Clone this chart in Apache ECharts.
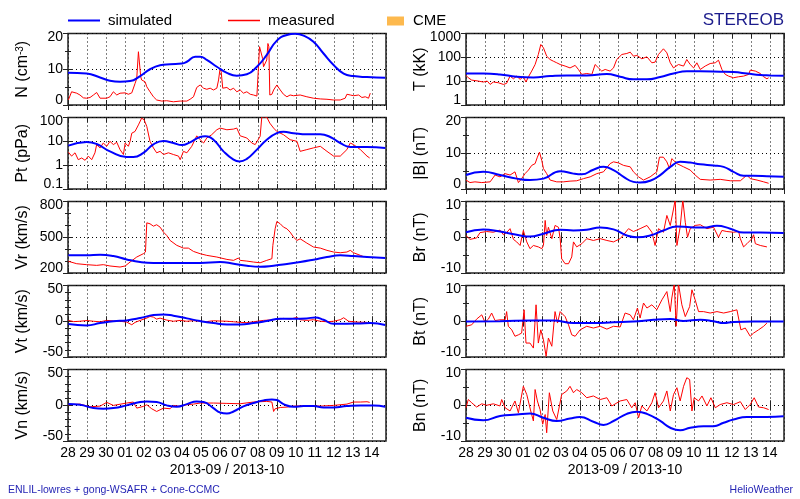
<!DOCTYPE html>
<html><head><meta charset="utf-8">
<script src="https://cdn.jsdelivr.net/npm/echarts@6/dist/echarts.min.js"></script>
<style>html,body{margin:0;padding:0;background:#fff}#c{width:800px;height:499px}</style>
</head><body><div id="c"></div>
<script>
// x axis: days since 2013-09-28 00:00
const dayLabels = ['28','29','30','01','02','03','04','05','06','07','08','09','10','11','12','13','14'];
const xName = '2013-09 / 2013-10';

// ---- left column ----
const nSim = [[0,9.0],[0.98,8.8],[1.69,7.7],[2.21,6.8],[2.74,6.5],[3.27,6.7],[3.8,8.1],[4.32,10.0],[4.85,11.1],[5.38,11.4],[6.0,11.6],[6.26,12.1],[6.7,13.5],[6.96,13.5],[7.31,12.6],[7.84,10.7],[8.37,9.0],[8.89,8.2],[9.42,8.6],[9.95,10.7],[10.47,14.0],[11.0,18.0],[11.53,19.6],[11.97,19.9],[12.41,19.4],[12.93,17.7],[13.46,14.4],[13.99,11.2],[14.52,8.8],[15.04,8.1],[15.75,7.8],[16.71,7.6]];
const nObs = [[0.02,1.4],[0.19,3.7],[0.28,4.0],[0.46,3.3],[0.63,2.8],[0.81,2.0],[0.98,1.9],[1.16,2.1],[1.34,2.8],[1.51,3.5],[1.69,1.9],[2.04,1.9],[2.21,2.3],[2.39,3.7],[2.57,2.8],[2.74,3.3],[3.01,3.4],[3.18,3.0],[3.36,3.4],[3.44,3.0],[3.53,6.0],[3.62,7.4],[3.71,14.9],[3.76,14.4],[3.83,7.9],[3.88,7.0],[3.97,7.2],[4.06,6.5],[4.15,5.1],[4.32,3.7],[4.5,2.3],[4.67,1.4],[4.94,1.1],[5.2,1.2],[5.55,0.9],[5.91,1.1],[6.26,1.1],[6.43,1.6],[6.61,2.3],[6.78,4.9],[6.96,5.6],[7.14,4.7],[7.31,4.4],[7.49,4.7],[7.66,4.2],[7.84,4.7],[7.93,7.0],[8.01,10.2],[8.07,9.3],[8.15,4.7],[8.37,4.9],[8.54,4.2],[8.72,4.7],[8.89,3.7],[9.07,4.2],[9.24,3.3],[9.42,3.7],[9.6,3.0],[9.77,2.8],[9.95,2.5],[10.04,2.6],[10.09,16.3],[10.16,15.8],[10.25,13.0],[10.3,10.7],[10.39,10.2],[10.47,12.6],[10.53,17.2],[10.58,16.3],[10.63,2.8],[10.74,3.0],[10.83,4.2],[11.0,5.6],[11.18,4.2],[11.35,3.0],[11.53,2.3],[11.7,2.8],[11.88,2.6],[12.23,2.8],[12.58,2.3],[12.93,1.9],[13.29,1.7],[13.64,1.6],[13.99,1.4],[14.34,1.4],[14.6,1.9],[14.69,3.0],[14.87,2.8],[15.04,2.6],[15.31,2.8],[15.48,2.1],[15.66,2.3],[15.83,1.9],[15.92,3.3]];

const ptSim = [[0.02,6.6],[0.98,9.4],[1.51,7.7],[2.21,3.8],[3.09,2.2],[3.44,2.2],[3.97,3.3],[4.5,7.5],[5.03,10.3],[5.55,8.5],[5.99,7.0],[6.43,9.1],[6.96,15.2],[7.22,16.2],[7.66,11.7],[8.19,3.8],[8.72,1.7],[9.03,1.42],[9.42,1.84],[9.95,4.5],[10.47,11.7],[11.0,22],[11.35,25],[11.88,22],[12.58,19.6],[13.29,19.6],[13.81,15.2],[14.34,8.5],[14.87,5.8],[15.75,5.8],[16.71,5.3]];
const ptObs = [[0.02,3.5],[0.19,2.4],[0.37,3.3],[0.54,1.7],[0.72,2.0],[0.9,1.6],[1.07,2.4],[1.25,1.7],[1.42,3.3],[1.51,7.3],[1.69,5.3],[1.86,8.5],[2.04,6.2],[2.21,10],[2.39,7.3],[2.57,9.1],[2.74,4.5],[2.92,2.8],[3.01,8.5],[3.18,6.2],[3.27,10],[3.36,22],[3.53,26],[3.71,49],[3.88,94],[4.01,80],[4.15,42],[4.32,10],[4.5,5.3],[4.67,3.3],[4.85,3.8],[5.03,2.8],[5.29,3.3],[5.55,2.8],[5.82,2.4],[5.91,1.7],[6.08,3.8],[6.26,3.3],[6.52,6.2],[6.78,17],[6.96,11.7],[7.14,8.5],[7.31,13.8],[7.57,19],[7.84,30.6],[8.01,36],[8.37,30.6],[8.72,32.6],[8.89,36],[9.07,17],[9.42,13.8],[9.68,8.5],[9.86,7.3],[10.12,16.2],[10.21,110],[10.3,94],[10.47,103],[10.63,58],[10.83,36],[11.0,26],[11.35,19],[11.7,11.7],[12.06,10],[12.23,3.8],[12.58,4.5],[12.93,5.3],[13.29,6.2],[13.64,3.8],[13.99,2.4],[14.34,2.4],[14.69,4.5],[14.87,8.5],[15.04,7.3],[15.4,4.5],[15.75,2.4],[15.89,2.0]];

const vrSim = [[0.02,348],[0.98,348],[1.69,353],[2.39,342],[3.09,314],[3.8,292],[4.5,284],[5.55,284],[6.96,284],[8.01,292],[8.72,278],[9.42,261],[10.12,253],[10.83,261],[11.53,275],[12.23,292],[12.93,312],[13.64,334],[14.34,348],[15.04,342],[15.75,334],[16.71,326]];
const vrObs = [[0.02,298],[0.46,278],[0.98,270],[1.51,264],[1.86,270],[2.21,259],[2.74,250],[3.01,259],[3.27,292],[3.62,334],[3.97,362],[4.08,376],[4.15,621],[4.32,613],[4.5,593],[4.67,605],[4.85,585],[5.03,543],[5.2,515],[5.38,473],[5.73,432],[6.08,409],[6.34,409],[6.61,381],[6.96,362],[7.31,348],[7.84,334],[8.37,314],[8.72,306],[8.98,326],[9.07,306],[9.42,300],[9.77,292],[10.12,286],[10.47,306],[10.74,320],[10.79,432],[10.91,571],[11.0,632],[11.18,613],[11.35,585],[11.53,571],[11.7,543],[11.88,501],[12.06,473],[12.23,487],[12.58,451],[12.93,418],[13.29,409],[13.64,390],[13.99,376],[14.34,370],[14.69,376],[14.87,390],[15.04,370],[15.4,348],[15.57,337]];

const vtSim = [[0.02,-4],[0.98,-5.8],[1.69,-2.6],[2.39,0],[3.09,1.2],[3.8,4.4],[4.5,8.6],[5.03,9.5],[5.55,7.7],[6.26,4.0],[6.96,0.2],[7.66,-2.6],[8.37,-4.4],[9.07,-4.4],[9.77,-2.6],[10.47,0.2],[11.18,3.5],[11.88,3.5],[12.58,4.0],[13.02,5.3],[13.46,2.1],[13.99,-3.5],[14.69,-3.5],[15.4,-3.0],[15.92,-2.6],[16.71,-5.3]];
const vtObs = [[0.02,1.2],[0.3,-0.5],[0.63,0],[1.0,1.0],[1.34,0],[1.7,-0.8],[2.04,1.2],[2.4,0.5],[2.74,0],[3.09,-1.2],[3.36,-4.9],[3.53,-1.6],[3.8,1.2],[4.15,4.4],[4.32,6.7],[4.5,5.8],[4.67,3.0],[4.85,4.4],[5.2,1.6],[5.55,0],[5.91,1.2],[6.26,0],[6.6,0.8],[6.96,0],[7.3,-0.5],[7.66,0.7],[8.0,0.3],[8.37,0],[8.72,-0.7],[9.07,-1.6],[9.42,-2],[9.77,-0.7],[10.3,1.2],[10.83,2.1],[11.35,4.0],[11.7,3.0],[12.06,5.3],[12.23,2.1],[12.58,1.2],[12.93,2.1],[13.29,0],[13.64,-0.7],[13.99,0],[14.34,2.1],[14.52,4.9],[14.78,0],[15.22,-1.2],[15.75,-1.6]];

const vnSim = [[0.02,1.6],[0.63,0.7],[1.34,-4],[1.86,-4.9],[2.39,-4],[3.09,-0.2],[3.8,4.5],[4.15,5.4],[4.67,4.5],[5.2,-0.2],[5.73,-2.1],[6.26,1.6],[6.78,5.4],[7.14,4.5],[7.66,-4],[8.01,-10.1],[8.37,-11.5],[8.72,-8.7],[9.24,-1.6],[9.77,3.1],[10.3,6.8],[10.74,8.2],[11.0,7.3],[11.35,1.6],[11.88,-2.1],[12.41,-1.2],[12.93,-1.2],[13.46,-3.1],[13.99,-3.1],[14.69,-1.2],[15.4,-0.2],[16.1,-0.2],[16.71,-2.1]];
const vnObs = [[0.02,0.7],[0.63,1.6],[1.16,-2.1],[1.69,-1.2],[2.04,4.0],[2.39,-0.2],[3.09,3.1],[3.44,4.5],[3.62,-4],[3.97,-1.6],[4.15,0.7],[4.41,-4.9],[4.67,-8.7],[5.03,-4],[5.38,-4.9],[5.55,-0.2],[5.91,-1.6],[6.26,0.7],[6.61,1.6],[6.96,3.1],[7.66,3.1],[8.37,2.6],[9.07,2.1],[9.77,4.5],[10.47,5.4],[10.74,4.5],[10.83,-8.7],[10.91,-4.9],[11.18,-3.1],[11.53,-2.6],[11.88,-1.2],[12.58,-0.7],[13.29,-1.2],[13.99,-0.2],[14.69,1.6],[15.04,4.5],[15.4,4.5],[15.75,4.9],[15.89,4.0]];

// ---- right column ----
const tSim = [[0,21],[0.91,21],[1.79,19.2],[2.67,15.3],[3.55,14.4],[4.43,16.3],[5.31,17.4],[6.36,17.4],[7.42,19.8],[8.12,15.3],[8.82,11.9],[9.53,11.9],[10.23,15.0],[10.93,21],[11.63,26],[12.34,26],[13.39,25],[14.09,24],[14.8,21],[15.5,18],[16.03,17.4],[16.73,16.9]];
const tObs = [[0,17.4],[0.12,13.9],[0.3,11.1],[0.65,10.1],[0.91,9.2],[1.12,10.1],[1.27,7.3],[1.44,9.2],[1.7,8.6],[1.97,7.3],[2.14,8.1],[2.32,16.3],[2.5,12.6],[2.67,16.3],[2.85,11.9],[3.02,15.3],[3.16,9.2],[3.29,15.3],[3.46,26.5],[3.64,50],[3.81,132],[3.94,346],[4.08,250],[4.25,112],[4.43,81],[4.6,69],[4.78,59],[4.96,50],[5.22,43],[5.48,36],[5.75,46],[5.92,31],[6.1,19.2],[6.36,21],[6.63,19.2],[6.8,50],[6.98,36],[7.15,26.5],[7.33,31],[7.59,26.5],[7.77,36],[7.94,81],[8.21,132],[8.47,145],[8.65,165],[8.82,112],[9.0,120],[9.26,87],[9.53,105],[9.79,59],[9.96,63],[10.14,132],[10.4,228],[10.58,155],[10.76,59],[10.93,36],[11.19,50],[11.46,43],[11.63,81],[11.81,50],[11.99,36],[12.16,59],[12.34,31],[12.6,43],[12.86,55],[13.13,59],[13.3,76],[13.48,31],[13.66,19.2],[13.83,16.3],[14.09,13.9],[14.36,15.3],[14.62,16.3],[14.89,19.2],[14.97,29],[15.24,26.5],[15.5,21],[15.68,15.3],[15.85,12.6],[15.94,13.9]];

const bSim = [[0,3.9],[0.91,4.8],[1.79,3.9],[2.67,2.9],[3.37,2.5],[4.08,2.9],[4.96,5.0],[5.66,4.3],[6.1,4.1],[6.71,5.4],[7.24,6.2],[7.77,5.3],[8.3,3.4],[8.82,2.0],[9.17,1.8],[9.7,2.3],[10.23,3.9],[10.76,6.2],[11.28,7.6],[11.81,7.4],[12.34,6.9],[13.04,6.6],[13.57,6.2],[14.09,4.8],[14.62,3.7],[15.15,3.7],[15.85,3.6],[16.73,3.4]];
const bObs = [[0,2.5],[0.21,1.8],[0.47,2.0],[0.83,1.8],[1.27,2.0],[1.53,3.9],[1.79,3.4],[2.06,4.3],[2.32,3.9],[2.58,4.8],[2.76,1.8],[2.93,2.9],[3.11,4.3],[3.29,5.3],[3.46,6.6],[3.64,7.1],[3.76,8.9],[3.87,10.3],[3.99,8.0],[4.08,5.7],[4.25,4.3],[4.43,2.5],[4.78,2.0],[5.13,2.0],[5.48,2.2],[5.83,2.3],[6.19,2.9],[6.54,3.4],[6.89,4.3],[7.24,4.8],[7.59,7.1],[7.77,7.6],[8.03,7.3],[8.3,6.6],[8.65,6.2],[8.82,4.8],[9.09,3.4],[9.35,2.5],[9.7,3.4],[10.05,4.8],[10.19,8.9],[10.4,8.9],[10.58,7.6],[10.72,5.7],[10.84,8.5],[11.11,7.1],[11.46,6.2],[11.81,5.3],[12.07,3.9],[12.34,2.7],[12.86,2.5],[13.39,2.7],[13.92,2.3],[14.45,2.3],[14.8,3.9],[14.97,2.9],[15.33,2.5],[15.68,2.0],[15.94,1.6]];

const brSim = [[0,1.4],[0.91,2.2],[1.79,1.6],[2.67,0.7],[3.37,0.2],[4.08,1.0],[4.96,2.1],[5.66,1.9],[6.36,2.1],[7.07,2.7],[7.77,2.2],[8.47,0.5],[9.0,0],[9.7,0.5],[10.4,1.9],[11.11,3.0],[11.81,2.8],[12.51,2.7],[13.22,3.2],[13.92,2.4],[14.62,1.3],[15.5,1.3],[16.73,1.2]];
const brObs = [[0,0.5],[0.21,-0.6],[0.56,-0.2],[0.74,1.3],[1.09,1.6],[1.44,1.4],[1.79,2.0],[1.97,0.7],[2.14,1.3],[2.32,2.4],[2.5,-0.6],[2.67,-1.3],[2.85,-2.3],[3.02,1.9],[3.2,-1.3],[3.37,-3.2],[3.55,-2.3],[3.81,-2.7],[3.99,-3.2],[4.08,-2.3],[4.17,4.7],[4.25,0.5],[4.34,2.8],[4.52,-0.4],[4.69,3.3],[4.87,2.8],[4.96,-0.4],[5.04,-6.0],[5.22,-7.4],[5.4,-7.4],[5.57,-5.5],[5.66,-1.3],[5.83,-2.7],[6.1,-1.8],[6.36,-0.4],[6.71,-0.9],[7.07,-0.4],[7.42,-0.9],[7.77,-1.3],[8.12,-0.4],[8.3,0.7],[8.56,2.4],[8.82,1.6],[9.17,2.4],[9.53,3.3],[9.79,1.4],[9.96,-2.3],[10.14,2.4],[10.4,1.4],[10.58,6.1],[10.76,3.3],[10.93,7.9],[11.02,10.5],[11.11,-2.3],[11.28,2.8],[11.42,10.5],[11.55,4.2],[11.67,0],[11.81,2.4],[12.07,3.3],[12.34,3.5],[12.69,2.4],[13.04,2.8],[13.3,0],[13.48,1.9],[13.74,1.6],[14.09,1.4],[14.36,1.6],[14.45,-0.4],[14.62,-2.7],[14.8,-1.8],[15.06,-0.4],[15.15,0.7],[15.24,-1.8],[15.5,-2.3],[15.85,-2.7]];

const btSim = [[0,-0.1],[1.79,0],[3.55,0.2],[4.6,0.2],[5.66,-0.5],[6.71,-0.5],[7.77,-0.3],[8.82,-0.1],[9.88,0.4],[10.76,0.6],[11.46,0.1],[12.34,0.4],[13.04,0],[13.57,-0.5],[14.09,-0.2],[15.15,-0.1],[16.73,-0.1]];
const btObs = [[0,-1.4],[0.3,-1.0],[0.56,0.6],[0.83,1.8],[1.0,-0.3],[1.18,0.6],[1.35,2.3],[1.53,0.2],[1.79,0.4],[2.06,0.4],[2.14,2.7],[2.23,-1.4],[2.41,-2.4],[2.58,-4.2],[2.76,-3.8],[2.93,-3.3],[3.06,3.2],[3.16,-6.1],[3.37,-6.1],[3.55,-7.5],[3.69,4.6],[3.81,-6.1],[3.94,-2.4],[4.08,-5.2],[4.22,-9.8],[4.34,-4.7],[4.52,-7.0],[4.69,2.7],[4.82,-0.5],[4.96,2.7],[5.22,1.3],[5.4,-1.0],[5.57,-3.8],[5.75,-4.2],[6.01,-2.4],[6.36,-1.4],[6.71,-1.9],[7.07,-1.4],[7.42,-2.2],[7.77,-1.4],[8.12,-1.6],[8.38,2.3],[8.65,1.8],[8.82,0.4],[9.03,3.7],[9.17,0.9],[9.35,5.1],[9.53,3.7],[9.79,4.6],[10.05,3.2],[10.32,6.0],[10.58,8.3],[10.76,2.7],[10.84,6.5],[10.97,10.5],[11.07,-1.4],[11.19,10.5],[11.37,4.6],[11.55,1.3],[11.78,4.1],[11.9,8.8],[12.07,6.0],[12.25,2.7],[12.51,2.7],[12.86,2.3],[13.22,2.7],[13.57,2.3],[13.92,2.7],[14.27,3.2],[14.36,3.2],[14.48,-2.4],[14.71,-1.9],[14.97,-4.2],[15.15,-3.3],[15.41,-2.4],[15.68,-1.4],[15.85,-0.5]];

const bnSim = [[0,-3.5],[0.91,-4.2],[1.79,-3.0],[2.67,-2.6],[3.37,-2.3],[4.08,-3.5],[4.78,-4.4],[5.48,-3.7],[6.01,-3.3],[6.71,-4.6],[7.24,-5.5],[7.77,-4.4],[8.47,-2.4],[9.0,-1.8],[9.53,-2.4],[10.23,-4.4],[10.76,-6.3],[11.28,-7.0],[11.81,-6.3],[12.51,-5.9],[13.04,-5.9],[13.57,-4.9],[14.09,-4.0],[14.8,-3.3],[15.85,-3.3],[16.73,-3.1]];
const bnObs = [[0,-0.7],[0.12,1.6],[0.3,0.7],[0.56,-0.5],[0.83,0.4],[1.09,0],[1.44,0.4],[1.79,-0.2],[1.88,1.6],[2.06,-0.7],[2.32,-1.6],[2.58,1.2],[2.76,-2.1],[3.02,5.3],[3.2,3.0],[3.41,-1.6],[3.55,-4.4],[3.64,4.4],[3.76,1.2],[3.9,-1.2],[4.04,-5.3],[4.17,-2.6],[4.25,-7.7],[4.39,3.5],[4.57,-1.6],[4.78,-4.0],[5.04,3.0],[5.31,4.0],[5.48,5.3],[5.66,3.5],[5.83,4.4],[6.1,3.5],[6.36,2.1],[6.71,2.6],[7.07,1.6],[7.42,2.1],[7.68,-0.2],[8.12,1.2],[8.47,1.6],[8.73,-0.7],[8.91,0.7],[9.09,-3.5],[9.26,-0.2],[9.53,-1.6],[9.79,0.7],[9.96,3.5],[10.14,-0.7],[10.4,1.2],[10.58,4.0],[10.76,-1.6],[10.93,3.0],[11.11,4.9],[11.28,1.2],[11.46,5.3],[11.63,7.7],[11.78,7.2],[11.9,-1.6],[12.02,2.1],[12.25,1.2],[12.43,2.6],[12.69,-0.2],[12.9,2.1],[13.13,-0.7],[13.39,0.2],[13.74,0.7],[14.09,0.2],[14.45,1.0],[14.71,-1.2],[14.97,0.2],[15.18,2.1],[15.41,-0.5],[15.68,-0.7],[15.94,-1.2]];

const panels = [
  {name:'N (cm{sup|-3})', sim:nSim, obs:nObs, log:false, min:0, max:20, interval:10, minor:2},
  {name:'Pt (pPa)', sim:ptSim, obs:ptObs, log:true, min:0.1, max:100},
  {name:'Vr (km/s)', sim:vrSim, obs:vrObs, log:false, min:200, max:800, interval:300, minor:3},
  {name:'Vt (km/s)', sim:vtSim, obs:vtObs, log:false, min:-50, max:50, interval:50, minor:5},
  {name:'Vn (km/s)', sim:vnSim, obs:vnObs, log:false, min:-50, max:50, interval:50, minor:5},
  {name:'T (kK)', sim:tSim, obs:tObs, log:true, min:1, max:1000},
  {name:'|B| (nT)', sim:bSim, obs:bObs, log:false, min:0, max:20, interval:10, minor:2},
  {name:'Br (nT)', sim:brSim, obs:brObs, log:false, min:-10, max:10, interval:10, minor:2},
  {name:'Bt (nT)', sim:btSim, obs:btObs, log:false, min:-10, max:10, interval:10, minor:2},
  {name:'Bn (nT)', sim:bnSim, obs:bnObs, log:false, min:-10, max:10, interval:10, minor:2}
];

const FONT = '"Liberation Sans", Arial, Helvetica, sans-serif';
const tops = [33.5, 117.5, 201.5, 285.5, 369.5];
const lefts = [68, 466];
const PW = 318, PH = 71.5;
const XMIN = 0, XMAX = 16.75;
const frameColor = '#222';
const dotted = {color:'#000', width:1, type:[1,3]};
const lblStyle = {fontSize:14, fontFamily:FONT, color:'#000'};

const grid = [], xAxis = [], yAxis = [], series = [];
panels.forEach((p, i) => {
  const col = i < 5 ? 0 : 1, row = i % 5;
  const last = row === 4;
  grid.push({left:lefts[col], top:tops[row], width:PW, height:PH, show:true, borderColor:frameColor, borderWidth:1.5, backgroundColor:'transparent', containLabel:false});
  const xb = {
    gridIndex:i, type:'value', min:XMIN, max:XMAX, interval:1, position:'bottom',
    axisLine:{show:false},
    axisTick:{show:true, inside:true, length:5, lineStyle:{color:frameColor, width:1}},
    splitLine:{show:true, lineStyle:dotted},
    axisLabel:{show:last, fontSize:14, color:'#000', fontFamily:FONT, margin:5, hideOverlap:false,
      formatter:v => (Math.abs(v - Math.round(v)) < 1e-6 && dayLabels[Math.round(v)] !== undefined) ? dayLabels[Math.round(v)] : ''}
  };
  if (last) Object.assign(xb, {name:xName, nameLocation:'middle', nameGap:22, nameMoveOverlap:false, nameTextStyle:{fontSize:14, color:'#000', fontFamily:FONT}});
  xAxis.push(xb);
  xAxis.push({gridIndex:i, type:'value', min:XMIN, max:XMAX, interval:1, position:'top',
    axisLine:{show:false}, axisTick:{show:true, inside:true, length:5, lineStyle:{color:frameColor}},
    splitLine:{show:false}, axisLabel:{show:false}});
  const yCommon = p.log ? {type:'log', logBase:10, min:p.min, max:p.max} : {type:'value', min:p.min, max:p.max, interval:p.interval};
  const minor = p.log ? {show:false} : {show:true, splitNumber:p.minor, length:3, lineStyle:{color:frameColor, width:1}};
  const near = (a, b) => Math.abs(a - b) < 1e-6 * Math.max(1, Math.abs(b));
  yAxis.push(Object.assign({gridIndex:i, position:'left',
    axisLine:{show:false},
    axisTick:{show:true, inside:true, length:5, lineStyle:{color:frameColor, width:1}},
    minorTick:minor,
    splitLine:{show:true, lineStyle:dotted},
    axisLabel:{fontSize:14, color:'#000', fontFamily:FONT, margin:5, showMinLabel:true, showMaxLabel:true, hideOverlap:false,
      formatter:v => {
        const s = String(+Number(v).toPrecision(6));
        if (near(v, p.max)) return '{mx|' + s + '}';
        if (near(v, p.min)) return '{mn|' + s + '}';
        return s;
      },
      rich:{mx:Object.assign({padding:[7,0,0,0]}, lblStyle), mn:Object.assign({padding:[0,0,10,0]}, lblStyle)}},
    name:p.name, nameLocation:'middle', nameRotate:90, nameGap:37, nameMoveOverlap:false,
    nameTextStyle:{fontSize:16, color:'#000', fontFamily:FONT, rich:{sup:{fontSize:10, verticalAlign:'top', fontFamily:FONT, color:'#000'}}}
  }, yCommon));
  yAxis.push(Object.assign({gridIndex:i, position:'right',
    axisLine:{show:false},
    axisTick:{show:true, inside:true, length:5, lineStyle:{color:frameColor, width:1}},
    minorTick:minor, splitLine:{show:false}, axisLabel:{show:false}}, yCommon));
  series.push({type:'line', name:'measured', xAxisIndex:2*i, yAxisIndex:2*i, data:p.obs, symbol:'none',
    lineStyle:{color:'#ff0000', width:1}, itemStyle:{color:'#ff0000'}, clip:true, z:2});
  series.push({type:'line', name:'simulated', xAxisIndex:2*i, yAxisIndex:2*i, data:p.sim, symbol:'none', smooth:0.5,
    lineStyle:{color:'#0000ff', width:2}, itemStyle:{color:'#0000ff'}, clip:true, z:3});
});

const chart = echarts.init(document.getElementById('c'), null, {renderer:'canvas'});
chart.setOption({
  animation:false,
  backgroundColor:'#ffffff',
  textStyle:{fontFamily:FONT},
  grid, xAxis, yAxis, series,
  graphic:[
    {type:'line', shape:{x1:68, y1:20.5, x2:100, y2:20.5}, style:{stroke:'#0000ff', lineWidth:2}},
    {type:'text', x:108, y:20.5, style:{text:'simulated', fontSize:15, fontFamily:FONT, fill:'#000', verticalAlign:'middle', align:'left'}},
    {type:'line', shape:{x1:228, y1:20.5, x2:260, y2:20.5}, style:{stroke:'#ff0000', lineWidth:1.5}},
    {type:'text', x:268, y:20.5, style:{text:'measured', fontSize:15, fontFamily:FONT, fill:'#000', verticalAlign:'middle', align:'left'}},
    {type:'rect', shape:{x:387, y:16.5, width:17, height:9}, style:{fill:'#fdb94e'}},
    {type:'text', x:413, y:20.5, style:{text:'CME', fontSize:15, fontFamily:FONT, fill:'#000', verticalAlign:'middle', align:'left'}},
    {type:'text', x:784, y:20.5, style:{text:'STEREOB', fontSize:17, fontFamily:FONT, fill:'#1c1c8c', verticalAlign:'middle', align:'right'}},
    {type:'text', x:8, y:490, style:{text:'ENLIL-lowres + gong-WSAFR + Cone-CCMC', fontSize:10.5, fontFamily:FONT, fill:'#2626b5', verticalAlign:'middle', align:'left'}},
    {type:'text', x:793, y:490, style:{text:'HelioWeather', fontSize:10.5, fontFamily:FONT, fill:'#2626b5', verticalAlign:'middle', align:'right'}}
  ]
});
</script></body></html>
